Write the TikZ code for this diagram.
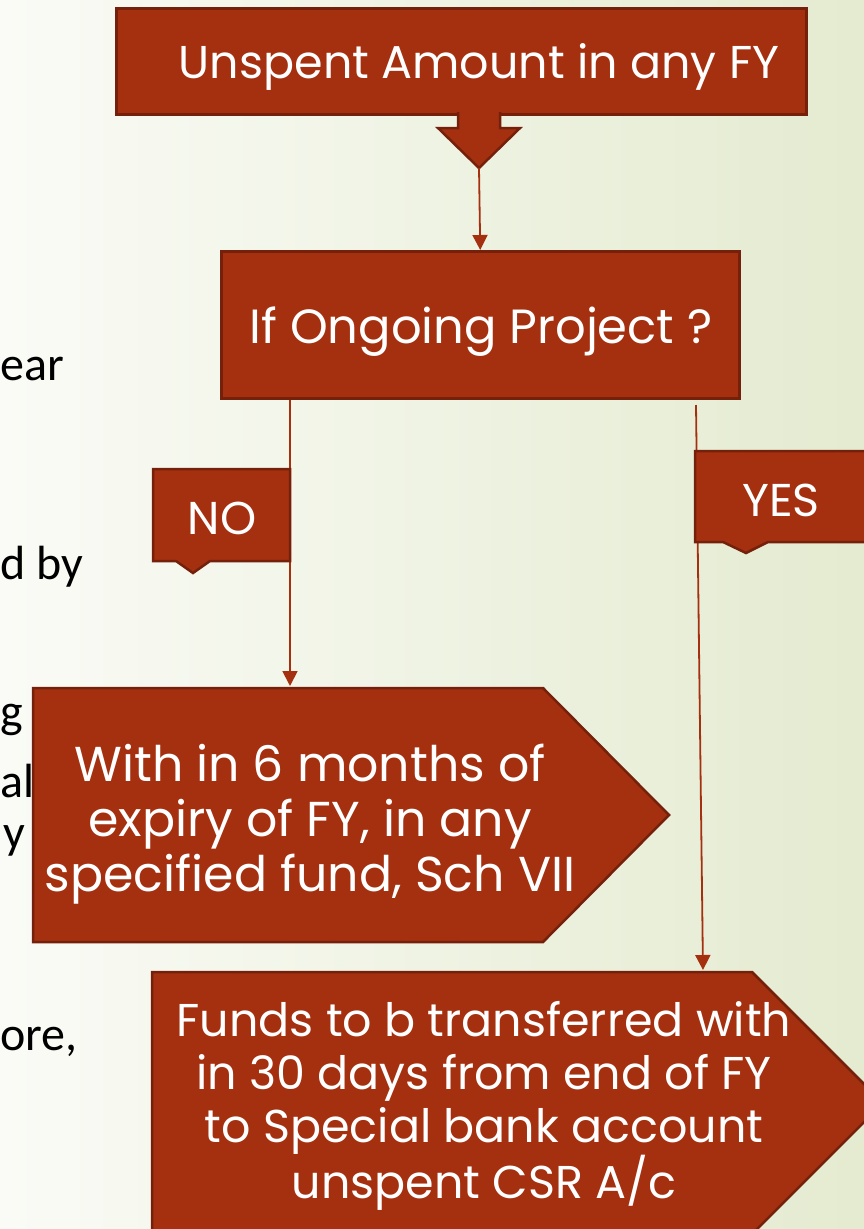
\documentclass[tikz,border=0pt]{standalone}
\usepackage{fontspec}
\setmainfont{Poppins}
\newfontfamily\bodyfont{Carlito}
\usetikzlibrary{arrows.meta}
\definecolor{wisp}{HTML}{A53010}
\definecolor{wispdark}{HTML}{74200B}
\definecolor{bgl}{HTML}{FAFBF6}
\definecolor{bgr}{HTML}{E4EBD0}
\begin{document}
\begin{tikzpicture}[x=1pt,y=-1pt,
  boxfill/.style={fill=wisp,draw=wispdark,line width=2.5pt,line join=miter},
  boxtext/.style={text=white,font=\fontsize{46}{55}\selectfont,align=center,inner sep=0pt},
  conn/.style={draw=wisp,line width=1.8pt,-{Triangle[width=15pt,length=15pt]}},
  sidetext/.style={text=black,font=\bodyfont\fontsize{48}{54}\selectfont,anchor=base west,inner sep=0pt}]
\useasboundingbox (0,0) rectangle (864,1229);
\shade[left color=bgl,right color=bgr] (0,0) rectangle (864,1229);

% cut-off text at the left
\node[sidetext] (s1) at (0,380) {ear};
\node[sidetext] (s2) at (0,579) {d by};
\node[sidetext] (s3) at (0,727) {g};
\node[sidetext] (s4) at (0,797) {al};
\node[sidetext] (s5) at (3,848) {y};
\node[sidetext] (s6) at (0,1050) {ore,};

% top box
\node[boxfill,minimum width=690pt,minimum height=106pt,inner sep=0pt,anchor=north west] (b1) at (115,7) {};
\node[boxtext,anchor=base] (t1) at (479,78) {Unspent Amount in any FY};
\fill[wisp] (458,104) -- (458,128) -- (438,128) -- (479,168) -- (520,128) -- (500,128) -- (500,104) -- cycle;
\draw[wispdark,line width=2.5pt,line join=miter] (458,112) -- (458,128) -- (438,128) -- (479,168) -- (520,128) -- (500,128) -- (500,112);
\coordinate (a1) at (479,168);

% decision box
\node[boxfill,minimum width=518pt,minimum height=147pt,inner sep=0pt,anchor=north west] (b2) at (220,250) {};
\node[boxtext,anchor=base,font=\fontsize{48}{55}\selectfont] (t2) at (481,343) {If Ongoing Project ?};
\draw[conn] (a1) -- (b2.north);

% connectors
\coordinate (b3top) at (290,686);
\coordinate (yesstart) at (696,405);
\coordinate (b4top) at (703,970);
\draw[conn] (b2.south -| b3top) -- (b3top);
\draw[conn] (yesstart) -- (b4top);

% NO callout
\draw[boxfill] (153,469) -- (290,469) -- (290,561) -- (210,561) -- (193,573) -- (176,561) -- (153,561) -- cycle;
\node[boxtext,anchor=base] (no) at (222,534) {NO};

% YES callout
\draw[boxfill] (695,451) -- (885,451) -- (885,542) -- (768,542) -- (746,553) -- (723,542) -- (695,542) -- cycle;
\node[boxtext,anchor=base] (yes) at (781,516) {YES};

% box 3
\draw[boxfill] (33,688) -- (543,688) -- (669,815) -- (543,942) -- (33,942) -- cycle;
\node[boxtext,font=\fontsize{49}{55}\selectfont] (t3) at (310,824) {With in 6 months of\\expiry of FY, in any\\specified fund, Sch VII};

% box 4
\draw[boxfill] (152,972) -- (752,972) -- (883,1103) -- (752,1234) -- (152,1234) -- cycle;
\node[boxtext,font=\fontsize{46}{53}\selectfont] (t4) at (484,1106) {Funds to b transferred with\\in 30 days from end of FY\\to Special bank account\\unspent CSR A/c};
\end{tikzpicture}
\end{document}
